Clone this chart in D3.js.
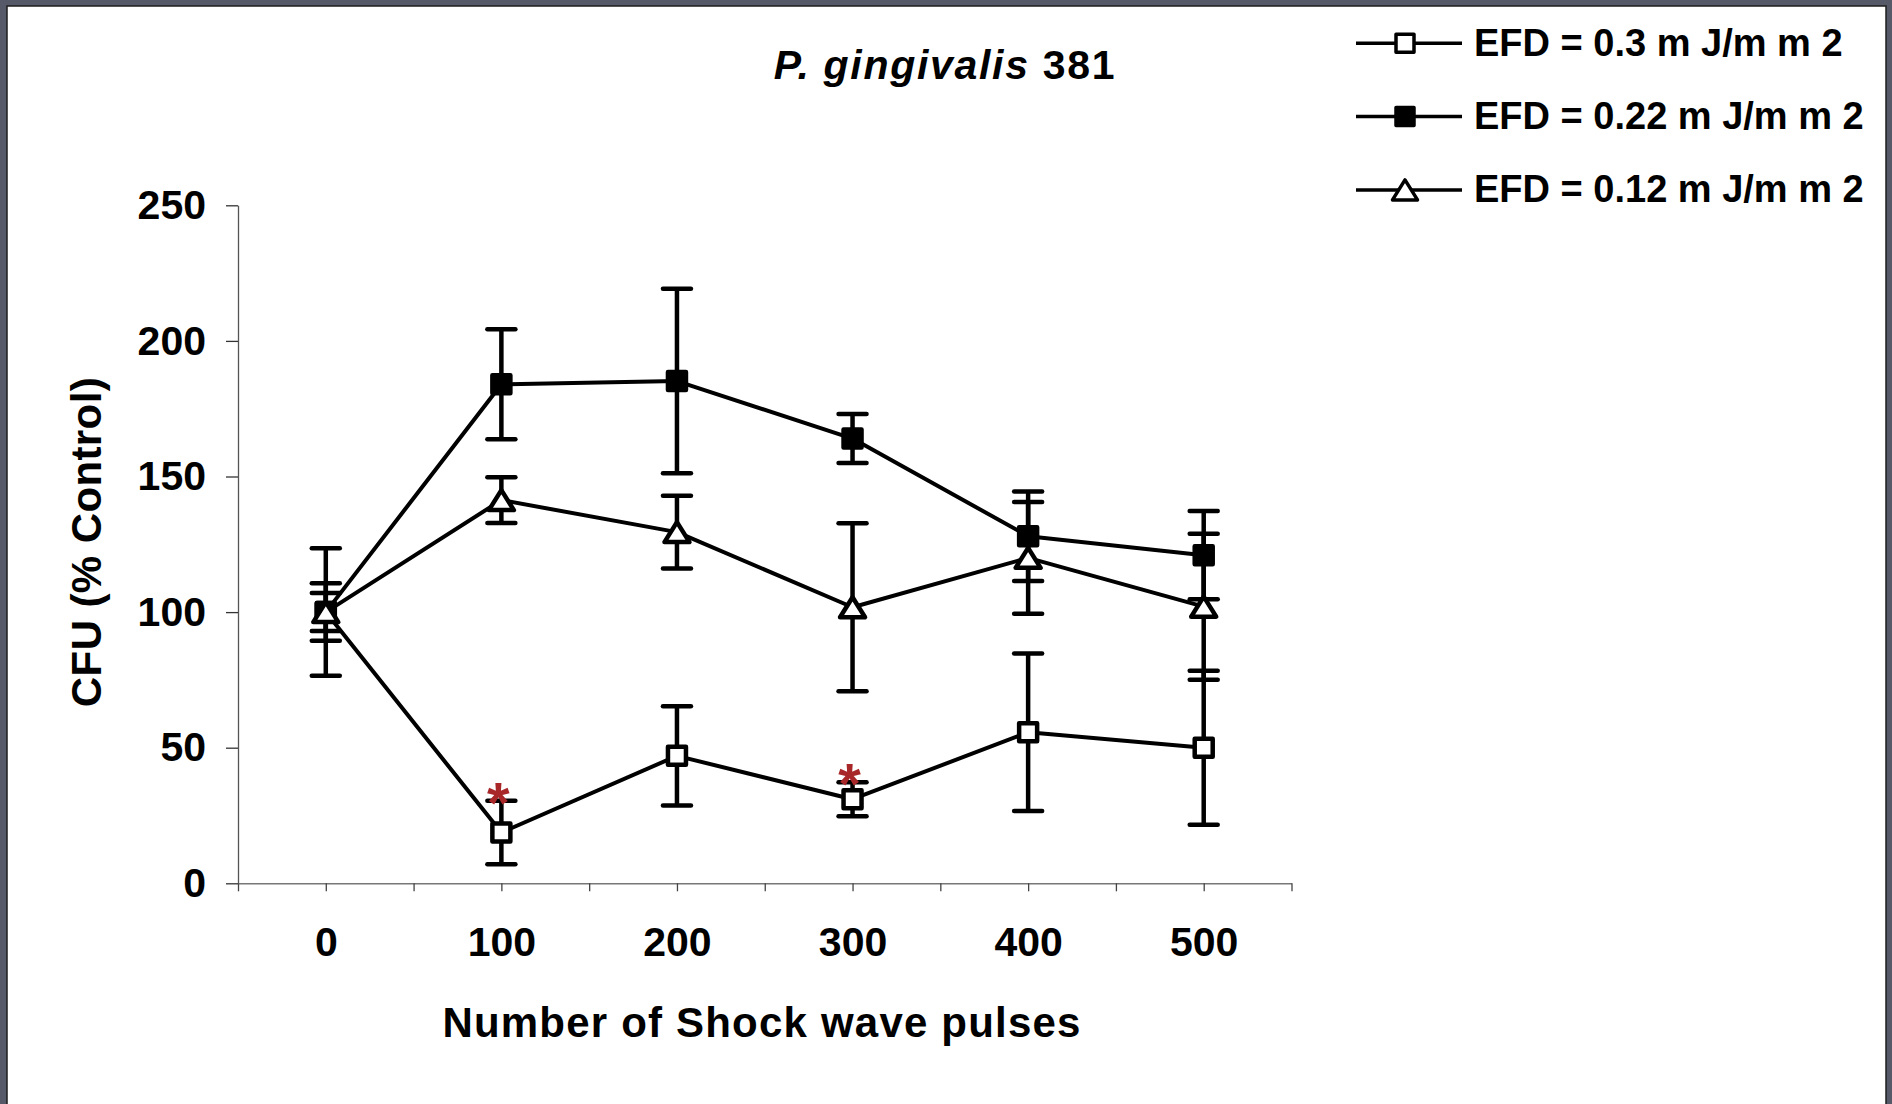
<!DOCTYPE html>
<html>
<head>
<meta charset="utf-8">
<script src="https://cdn.jsdelivr.net/npm/d3@7"></script>
<style>
  body { margin: 0; background: #565a68; }
  svg { display: block; }
  text { font-family: "Liberation Sans", Arial, sans-serif; font-weight: bold; fill: #000; }
</style>
</head>
<body>
<svg id="svg" width="1892" height="1104"></svg>
<script>
// data (CFU as % of control, mean and error)
const pulses = [0, 100, 200, 300, 400, 500]
const cfu03 = [100, 18.7, 47, 31, 55.7, 50]
const err03 = [23.5, 11.7, 18.3, 6.3, 29, 28.4]
const cfu022 = [100, 184, 185.2, 164, 128, 121]
const err022 = [10.6, 20.3, 34, 9, 16.5, 16.3]
const cfu012 = [100, 141.3, 129.5, 101.8, 120, 102]
const err012 = [7, 8.4, 13.4, 31, 20.6, 26.9]
const sigPulses = [100, 300]
const seriesNames = ["EFD = 0.3 m J/m m 2", "EFD = 0.22 m J/m m 2", "EFD = 0.12 m J/m m 2"]
const yTicks = [0, 50, 100, 150, 200, 250]
const xTicks = [-50, 0, 50, 100, 150, 200, 250, 300, 350, 400, 450, 500, 550]
const xTickLabels = [0, 100, 200, 300, 400, 500]

const series = [
  { name: seriesNames[0], vals: cfu03, errs: err03, shape: "square", fill: "#fff" },
  { name: seriesNames[1], vals: cfu022, errs: err022, shape: "square", fill: "#000" },
  { name: seriesNames[2], vals: cfu012, errs: err012, shape: "triangle", fill: "#fff" }
]

const svg = d3.select("#svg")
const x = d3.scaleLinear([-50, 550], [238, 1291.5])
const y = d3.scaleLinear([0, 250], [883.3, 205.3])

// background panel
svg.append("rect").attr("width", 1892).attr("height", 1104).attr("fill", "#565a68")
svg.append("rect").attr("x", 7).attr("y", 6).attr("width", 1879).attr("height", 1120)
  .attr("fill", "#fff").attr("stroke", "#1e1e1e").attr("stroke-width", 1.5)

function shapePath(shape) {
  if (shape === "triangle") return "M0,-10L12.5,10L-12.5,10Z"
  return "M-9,-9H9V9H-9Z"
}

// axes
const yAxis = d3.axisLeft(y).tickValues(yTicks).tickSize(12).tickSizeOuter(0).tickPadding(20)
const gy = svg.append("g").attr("transform", "translate(238,0)").call(yAxis)
gy.select(".domain").attr("stroke", "#555").attr("stroke-width", 1.3)
gy.selectAll(".tick line").attr("stroke", "#333").attr("stroke-width", 1.3)
gy.selectAll(".tick text").attr("font-size", 41).attr("font-family", null)

const xAxis = d3.axisBottom(x).tickValues(xTicks).tickSize(8).tickSizeOuter(0).tickPadding(36)
  .tickFormat(d => xTickLabels.includes(d) ? d : "")
const gx = svg.append("g").attr("transform", "translate(0,883.3)").call(xAxis)
gx.select(".domain").attr("stroke", "#777").attr("stroke-width", 1.6)
gx.selectAll(".tick line").attr("stroke", "#444").attr("stroke-width", 1.3)
gx.selectAll(".tick text").attr("font-size", 41).attr("font-family", null)
svg.selectAll(".tick text").attr("fill", "#000")

// titles
const title = svg.append("text").attr("x", 945).attr("y", 79).attr("text-anchor", "middle")
  .attr("font-size", 41).attr("letter-spacing", 1.7)
title.append("tspan").attr("font-style", "italic").text("P. gingivalis")
title.append("tspan").text(" 381")

svg.append("text").attr("x", 762).attr("y", 1037).attr("text-anchor", "middle")
  .attr("font-size", 42).attr("letter-spacing", 1.2).text("Number of Shock wave pulses")

svg.append("text").attr("transform", "translate(101,542) rotate(-90)").attr("text-anchor", "middle")
  .attr("font-size", 42).attr("letter-spacing", 0.4).text("CFU (% Control)")

// error bars
const plot = svg.append("g")
series.forEach(s => {
  const g = plot.append("g").attr("stroke", "#000").attr("stroke-width", 4.5)
  pulses.forEach((p, i) => {
    const cx = x(p), top = y(s.vals[i] + s.errs[i]), bot = y(s.vals[i] - s.errs[i])
    g.append("line").attr("x1", cx).attr("x2", cx).attr("y1", top).attr("y2", bot)
    g.append("line").attr("x1", cx - 14).attr("x2", cx + 14).attr("y1", top).attr("y2", top).attr("stroke-linecap", "round")
    g.append("line").attr("x1", cx - 14).attr("x2", cx + 14).attr("y1", bot).attr("y2", bot).attr("stroke-linecap", "round")
  })
})

// lines
const line = d3.line().x((d, i) => x(pulses[i])).y(d => y(d))
series.forEach(s => {
  plot.append("path").attr("d", line(s.vals)).attr("fill", "none")
    .attr("stroke", "#000").attr("stroke-width", 4).attr("stroke-linejoin", "round")
})

// markers
series.forEach(s => {
  plot.selectAll(null).data(s.vals).join("path")
    .attr("transform", (d, i) => `translate(${x(pulses[i])},${y(d)})`)
    .attr("d", shapePath(s.shape)).attr("fill", s.fill)
    .attr("stroke", "#000").attr("stroke-width", 4.5).attr("stroke-linejoin", "round")
})

// significance stars above the 0.3 mJ/mm2 bars
sigPulses.forEach(p => {
  const i = pulses.indexOf(p)
  svg.append("text").attr("x", x(p) - 3).attr("y", y(cfu03[i] + err03[i]) - 12 + 34)
    .attr("text-anchor", "middle").attr("font-size", 58)
    .style("fill", "#a8282a").text("*")
})

// legend
const legend = svg.append("g")
series.forEach((s, i) => {
  const ly = 43.3 + 73.3 * i
  legend.append("line").attr("x1", 1356).attr("x2", 1462).attr("y1", ly).attr("y2", ly)
    .attr("stroke", "#000").attr("stroke-width", 3.5)
  legend.append("path").attr("transform", `translate(1405,${ly})`).attr("d", shapePath(s.shape))
    .attr("fill", s.fill).attr("stroke", "#000").attr("stroke-width", 3.5).attr("stroke-linejoin", "round")
  legend.append("text").attr("x", 1474).attr("y", ly).attr("dy", "0.33em")
    .attr("font-size", 38).text(s.name)
})
</script>
</body>
</html>
